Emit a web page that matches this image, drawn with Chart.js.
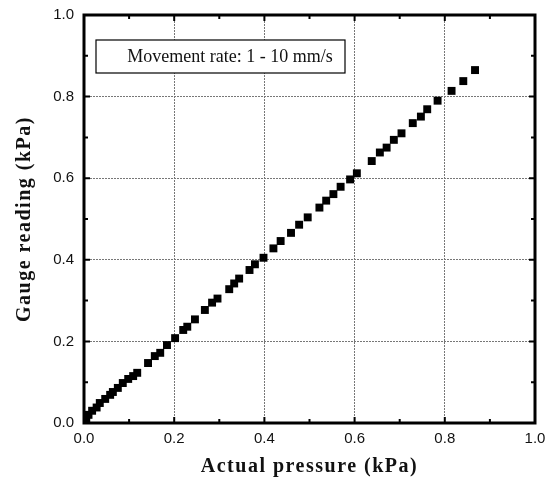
<!DOCTYPE html>
<html>
<head>
<meta charset="utf-8">
<script src="https://cdn.jsdelivr.net/npm/chart.js@4/dist/chart.umd.min.js"></script>
<style>
  html, body { margin: 0; padding: 0; background: #fff; }
  #wrap { width: 549px; height: 484px; }
</style>
</head>
<body>
<div id="wrap"><canvas id="pressureChart" width="549" height="484"></canvas></div>
<script>
// values
var actualPressure = [0.005, 0.010, 0.018, 0.028, 0.035, 0.047, 0.058, 0.064, 0.075, 0.086,
    0.098, 0.109, 0.118, 0.142, 0.157, 0.169, 0.184, 0.202, 0.220, 0.229,
    0.246, 0.268, 0.284, 0.296, 0.322, 0.333, 0.344, 0.367, 0.379, 0.398,
    0.420, 0.436, 0.459, 0.477, 0.496, 0.522, 0.537, 0.553, 0.569, 0.590,
    0.605, 0.638, 0.656, 0.671, 0.687, 0.704, 0.729, 0.747, 0.761, 0.784,
    0.815, 0.841, 0.867];
var gaugeReading = [0.008, 0.020, 0.030, 0.038, 0.049, 0.059, 0.069, 0.076, 0.086, 0.098,
    0.108, 0.115, 0.123, 0.147, 0.164, 0.172, 0.191, 0.208, 0.228, 0.236,
    0.254, 0.277, 0.295, 0.305, 0.328, 0.342, 0.354, 0.375, 0.389, 0.405,
    0.428, 0.446, 0.466, 0.486, 0.504, 0.528, 0.545, 0.561, 0.579, 0.597,
    0.612, 0.642, 0.663, 0.675, 0.694, 0.710, 0.735, 0.751, 0.769, 0.790,
    0.814, 0.838, 0.865];
var axisMin = 0, axisMax = 1;
var tickStep = 0.1;          // minor ticks
var labelledEvery = 2;       // label / grid every 0.2
var legendText = "Movement rate: 1 - 10 mm/s";
var xTitle = "Actual pressure (kPa)";
var yTitle = "Gauge reading (kPa)";

var points = [];
for (var i = 0; i < actualPressure.length; i++) {
    points.push({x: actualPressure[i], y: gaugeReading[i]});
}

function isMajor(v) {
    return Math.round(v / tickStep) % labelledEvery === 0;
}

var tickFont = {family: "'Liberation Sans', Arial, sans-serif", size: 15};
var titleFont = {family: "'Liberation Serif', 'Times New Roman', serif", size: 20, weight: 'bold'};

function gridColor(c) {
    return c.tick && isMajor(c.tick.value) ? '#777' : 'rgba(0,0,0,0)';
}

// frame, inward tick marks, the boxed note and spaced axis titles
var framePlugin = {
    id: 'frame',
    beforeDraw: function (chart) {
        ['x', 'y'].forEach(function (id) {
            var s = chart.scales[id];
            if (s._spaced) return;
            var orig = s.drawTitle;
            s.drawTitle = function () {
                this.ctx.save();
                this.ctx.letterSpacing = '1.5px';
                orig.apply(this, arguments);
                this.ctx.restore();
            };
            s._spaced = true;
        });
    },
    beforeDatasetsDraw: function (chart) {
        var ctx = chart.ctx, a = chart.chartArea;
        var xs = chart.scales.x, ys = chart.scales.y;
        ctx.save();
        ctx.strokeStyle = '#000';
        ctx.lineWidth = 2;
        for (var v = axisMin; v <= axisMax + 1e-9; v += tickStep) {
            var len = isMajor(v) ? 6 : 4;
            var px = xs.getPixelForValue(v), py = ys.getPixelForValue(v);
            ctx.beginPath();
            ctx.moveTo(px, a.bottom); ctx.lineTo(px, a.bottom - len);
            ctx.moveTo(px, a.top); ctx.lineTo(px, a.top + len);
            ctx.moveTo(a.left, py); ctx.lineTo(a.left + len, py);
            ctx.moveTo(a.right, py); ctx.lineTo(a.right - len, py);
            ctx.stroke();
        }
        ctx.lineWidth = 3;
        ctx.strokeRect(a.left, a.top, a.right - a.left, a.bottom - a.top);
        ctx.restore();
    },
    afterDraw: function (chart) {
        var ctx = chart.ctx;
        ctx.save();
        ctx.fillStyle = '#fff';
        ctx.fillRect(96, 40, 249, 33);
        ctx.strokeStyle = '#000';
        ctx.lineWidth = 1.2;
        ctx.strokeRect(96, 40, 249, 33);
        ctx.fillStyle = '#111';
        ctx.font = "18px 'Liberation Serif', 'Times New Roman', serif";
        ctx.textAlign = 'center';
        ctx.textBaseline = 'middle';
        ctx.fillText(legendText, 230, 57);
        ctx.restore();
    }
};

var chartElem = document.getElementById("pressureChart");
var pressureChart = new Chart(chartElem, {
    type: 'scatter',
    data: {
        datasets: [
            {
                label: legendText,
                data: points,
                pointStyle: 'rect',
                pointRadius: 5.6,
                pointBorderWidth: 0,
                backgroundColor: '#000',
                borderColor: '#000'
            }
        ]
    },
    options: {
        responsive: false,
        animation: false,
        events: [],
        layout: {padding: {left: 10, right: 14, top: 15, bottom: 5}},
        plugins: {legend: {display: false}, tooltip: {enabled: false}},
        scales: {
            x: {
                type: 'linear',
                min: axisMin,
                max: axisMax,
                afterFit: function (s) { s.height = 56; s.paddingLeft = 0; s.paddingRight = 0; },
                ticks: {
                    stepSize: tickStep,
                    autoSkip: false,
                    maxRotation: 0,
                    padding: 7,
                    color: '#111',
                    font: tickFont,
                    callback: function (v) { return isMajor(v) ? v.toFixed(1) : ''; }
                },
                grid: {color: gridColor, lineWidth: 1, drawTicks: false},
                border: {display: false, dash: [2, 1]},
                title: {display: true, text: xTitle, color: '#111', font: titleFont, padding: {top: 0, bottom: 0}}
            },
            y: {
                type: 'linear',
                min: axisMin,
                max: axisMax,
                afterFit: function (s) { s.width = 74; s.paddingTop = 0; s.paddingBottom = 0; },
                ticks: {
                    stepSize: tickStep,
                    autoSkip: false,
                    padding: 10,
                    color: '#111',
                    font: tickFont,
                    callback: function (v) { return isMajor(v) ? v.toFixed(1) : ''; }
                },
                grid: {color: gridColor, lineWidth: 1, drawTicks: false},
                border: {display: false, dash: [2, 1]},
                title: {display: true, text: yTitle, color: '#111', font: titleFont, padding: {top: 3, bottom: 0}}
            }
        }
    },
    plugins: [framePlugin]
});
</script>
</body>
</html>
